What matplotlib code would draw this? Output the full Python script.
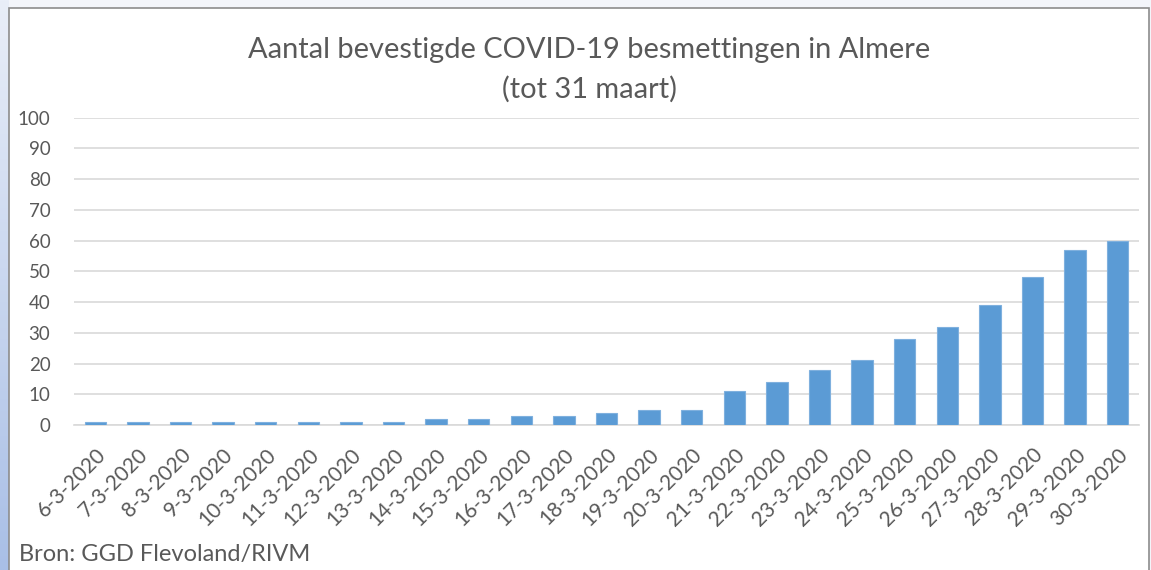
import matplotlib.pyplot as plt
import numpy as np
from matplotlib.patches import Rectangle

# data
dates = ["6-3-2020", "7-3-2020", "8-3-2020", "9-3-2020", "10-3-2020", "11-3-2020",
         "12-3-2020", "13-3-2020", "14-3-2020", "15-3-2020", "16-3-2020", "17-3-2020",
         "18-3-2020", "19-3-2020", "20-3-2020", "21-3-2020", "22-3-2020", "23-3-2020",
         "24-3-2020", "25-3-2020", "26-3-2020", "27-3-2020", "28-3-2020", "29-3-2020",
         "30-3-2020"]
cases = [1, 1, 1, 1, 1, 1, 1, 1, 2, 2, 3, 3, 4, 5, 5, 11, 14, 18, 21, 28, 32, 39, 48, 57, 60]
y_ticks = list(range(0, 101, 10))

plt.rcParams['font.family'] = ['Lato', 'DejaVu Sans']
txt = '#595959'

W, H = 1151, 570
fig = plt.figure(figsize=(W / 100, H / 100), dpi=100)
fig.patch.set_facecolor('#f3f5fa')

# left blue strip (gradient) + white frame
bg = fig.add_axes([0, 0, 1, 1], zorder=-10)
bg.set_xlim(0, W)
bg.set_ylim(H, 0)
bg.axis('off')
grad = np.linspace(0, 1, 200).reshape(-1, 1)
bg.imshow(grad, cmap=plt.matplotlib.colors.LinearSegmentedColormap.from_list(
    'strip', ['#e9eef8', '#a9bfe6']), extent=[0, 9, H, 0], aspect='auto')
bg.add_patch(Rectangle((9, 8), 1140, 600, facecolor='white', edgecolor='#8c8c8c', lw=1.2))

ax = fig.add_axes([74 / W, 1 - 425 / H, (1139 - 74) / W, (425 - 117.7) / H])
ax.set_facecolor('none')
x = np.arange(len(dates))
ax.bar(x, cases, width=0.5, color='#5b9bd5', edgecolor='#7fb0de', linewidth=0.8, zorder=3)

ax.set_xlim(-0.5, len(dates) - 0.5)
ax.set_ylim(0, 100)
ax.set_yticks(y_ticks)
ax.yaxis.grid(True, color='#d9d9d9', lw=1.2, zorder=0)
for s in ['top', 'right', 'left']:
    ax.spines[s].set_visible(False)
ax.spines['bottom'].set_color('#d9d9d9')
ax.spines['bottom'].set_linewidth(1.2)
ax.tick_params(axis='both', length=0, labelcolor=txt)
ax.tick_params(axis='y', pad=17, labelsize=13.5)
ax.set_xticks(x)
ax.set_xticklabels(dates, rotation=45, ha='right', va='top', rotation_mode='anchor')
ax.tick_params(axis='x', pad=14, labelsize=15)

fig.text(589 / W, 1 - 50 / H, "Aantal bevestigde COVID-19 besmettingen in Almere",
         ha='center', va='center', color=txt, fontsize=20.9)
fig.text(589 / W, 1 - 89 / H, "(tot 31 maart)", ha='center', va='center', color=txt, fontsize=20.9)
fig.text(19 / W, 1 - 555 / H, "Bron: GGD Flevoland/RIVM", ha='left', va='center',
         color=txt, fontsize=17)

fig.savefig('out.png', dpi=100, facecolor=fig.get_facecolor())
